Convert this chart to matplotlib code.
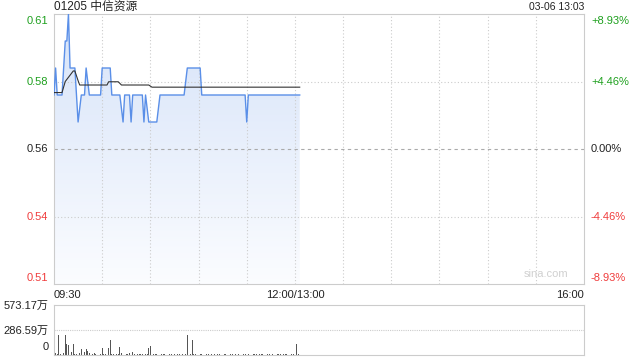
import numpy as np
import matplotlib
matplotlib.use("Agg")
import matplotlib.pyplot as plt
from matplotlib.transforms import blended_transform_factory

plt.rcParams['font.family'] = ['Liberation Sans', 'Noto Sans CJK SC']

# === Dati (minuti dalle 09:30, 330 = 16:00) ===
price_t = [0, 1, 2, 5, 7, 8, 9, 10, 13, 15, 17, 19, 20, 22, 29, 30, 35, 36, 41, 43,
           44, 47, 48, 49, 55, 56, 57, 59, 64, 66, 81, 83, 91, 92, 119, 120, 121, 153]
price_v = [0.58, 0.59, 0.58, 0.58, 0.60, 0.60, 0.61, 0.59, 0.59, 0.57,
           0.58, 0.58, 0.59, 0.58, 0.58, 0.59, 0.59, 0.58, 0.58, 0.57,
           0.58, 0.58, 0.57, 0.58, 0.58, 0.57, 0.58, 0.57, 0.57, 0.58,
           0.58, 0.59, 0.59, 0.58, 0.58, 0.57, 0.58, 0.58]

avg_t = [0, 5, 7, 12, 13, 15, 16, 33, 34, 40, 42, 59, 61, 153]
avg_v = [0.5809, 0.5809, 0.5850, 0.5889, 0.5889, 0.5853, 0.5837, 0.5837,
         0.5849, 0.5849, 0.5837, 0.5837, 0.5829, 0.5829]

# volume per minuto (万)
vol = [355, 20, 15, 234, 10, 45, 20, 234, 121, 113,
       132, 40, 121, 15, 10, 573, 20, 64, 64, 30,
       64, 45, 27, 15, 10, 20, 8, 5, 12, 10,
       75, 8, 10, 20, 75, 170, 15, 10, 30, 8,
       12, 90, 20, 10, 5, 15, 8, 20, 10, 30,
       8, 5, 10, 8, 15, 10, 25, 8, 10, 75,
       98, 10, 8, 6, 10, 5, 8, 6, 10, 8,
       5, 8, 10, 6, 5, 8, 6, 10, 8, 5,
       8, 6, 10, 234, 10, 8, 170, 8, 6, 10,
       5, 8, 6, 5, 10, 8, 6, 5, 8, 10,
       6, 5, 8, 6, 10, 5, 8, 6, 5, 10,
       8, 6, 5, 8, 10, 6, 5, 8, 6, 10,
       5, 8, 6, 5, 10, 8, 6, 5, 8, 10,
       6, 5, 8, 6, 10, 5, 8, 6, 5, 10,
       8, 6, 5, 8, 10, 6, 5, 8, 15, 10,
       8, 129, 15, 5]

prev_close = 0.56
y_ticks = [0.51, 0.535, 0.56, 0.585, 0.61]
y_labels = ['0.51', '0.54', '0.56', '0.58', '0.61']
pct_labels = ['-8.93%', '-4.46%', '0.00%', '+4.46%', '+8.93%']
x_labels = ['09:30', '12:00/13:00', '16:00']
vol_ticks = [0, 286.59, 573.17]
vol_labels = ['0', '286.59万', '573.17万']

GREEN = '#1ea01e'
RED = '#f03c3c'
GRAY = '#cccccc'

fig = plt.figure(figsize=(6.4, 3.6), dpi=100)
ax = fig.add_axes([54/640, 1-284/360, 530/640, 270/360])
axv = fig.add_axes([54/640, 1-355/360, 530/640, 50/360])

# === Grafico prezzo ===
ax.set_xlim(0, 330)
ax.set_ylim(0.51, 0.61)
for t in range(30, 330, 30):
    ax.axvline(t, color=GRAY, lw=0.8, ls=(0, (1, 2)), zorder=2)
ax.axhline(0.585, color=GRAY, lw=0.8, ls=(0, (1, 2)), zorder=2)
ax.axhline(0.535, color=GRAY, lw=0.8, ls=(0, (1, 2)), zorder=2)
ax.axhline(prev_close, color='#aaaaaa', lw=0.8, ls=(0, (3, 3)), zorder=2)

# riempimento sfumato sotto la linea
poly = ax.fill_between(price_t, price_v, 0.51, color='none')
grad = np.linspace(0, 1, 256).reshape(-1, 1)
top_c = np.array([0.84, 0.89, 0.975])
bot_c = np.array([0.985, 0.99, 1.0])
img = top_c + (bot_c - top_c) * grad[..., None]
im = ax.imshow(img, extent=[0, 153, 0.51, 0.61], aspect='auto', origin='upper', zorder=1)
im.set_clip_path(poly.get_paths()[0], transform=ax.transData)

ax.plot(price_t, price_v, color='#5a8fe8', lw=1.0, zorder=3)
ax.plot(avg_t, avg_v, color='#333333', lw=0.8, zorder=4)

ax.set_xticks([])
ax.set_yticks([])
for s in ax.spines.values():
    s.set_color(GRAY)
    s.set_linewidth(0.8)

trans = blended_transform_factory(ax.transAxes, ax.transData)
cols = [RED, RED, '#222222', GREEN, GREEN]
offs = [4, 0, 0, 0, -5]
for v, lab, pl, c, o in zip(y_ticks, y_labels, pct_labels, cols, offs):
    ax.annotate(lab, (0, v), xycoords=trans, xytext=(-4, o), textcoords='offset points',
                ha='right', va='center', fontsize=8, color=c)
    ax.annotate(pl, (1, v), xycoords=trans, xytext=(5, o), textcoords='offset points',
                ha='left', va='center', fontsize=8, color=c)

fig.text(54/640, 1-7/360, '01205 中信资源', ha='left', va='center',
         fontsize=8.5, color='#222222')
fig.text(584/640, 1-7/360, '03-06 13:03', ha='right', va='center',
         fontsize=7.5, color='#222222')
ax.text(0.97, 0.02, 'sina.com', transform=ax.transAxes, ha='right', va='bottom',
        fontsize=8, color='#d0d0d0')

for x, lab, ha in zip([0, 150, 330], x_labels, ['left', 'center', 'right']):
    ax.annotate(lab, (x, 0.51), xycoords='data', xytext=(0, -4), textcoords='offset points',
                ha=ha, va='top', fontsize=8, color='#222222')

# === Volume ===
axv.set_xlim(0, 330)
axv.set_ylim(0, 573.17)
axv.bar(np.arange(len(vol)), vol, width=0.5, color='#555555')
axv.axhline(286.59, color=GRAY, lw=0.8, ls=(0, (1, 1)))
axv.set_xticks([])
axv.set_yticks([])
for s in axv.spines.values():
    s.set_color(GRAY)
    s.set_linewidth(0.8)
axv.spines['top'].set_linestyle((0, (1, 1)))
for v, lab in zip(vol_ticks, vol_labels):
    axv.annotate(lab, (0, v), xycoords=blended_transform_factory(axv.transAxes, axv.transData),
                 xytext=(-4, 6 if v == 0 else -1), textcoords='offset points',
                 ha='right', va='center', fontsize=8, color='#222222')

plt.savefig('out.png', dpi=100)
